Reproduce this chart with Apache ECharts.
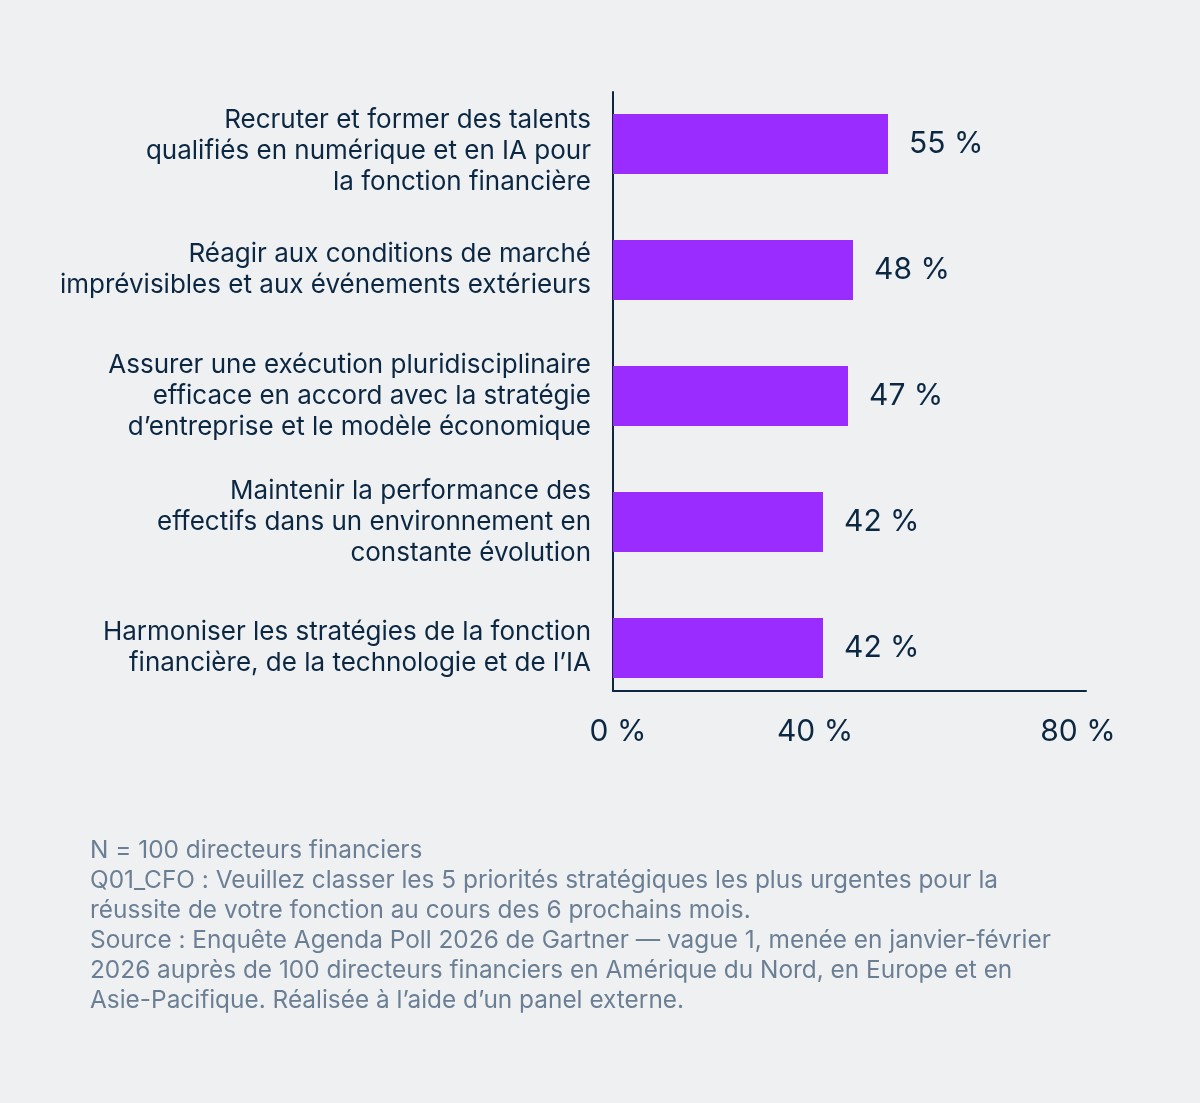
<!DOCTYPE html>
<html>
<head>
<meta charset="utf-8">
<script src="https://cdn.jsdelivr.net/npm/echarts@6/dist/echarts.min.js"></script>
<style>
  html, body { margin: 0; padding: 0; background: #eff0f2; }
  #main { width: 1200px; height: 1103px; }
</style>
</head>
<body>
<div id="main"></div>
<script>
// data
const categories = [
  'Recruter et former des talents\nqualifiés en numérique et en IA pour\nla fonction financière',
  'Réagir aux conditions de marché\nimprévisibles et aux événements extérieurs',
  'Assurer une exécution pluridisciplinaire\nefficace en accord avec la stratégie\nd\u2019entreprise et le modèle économique',
  'Maintenir la performance des\neffectifs dans un environnement en\nconstante évolution',
  'Harmoniser les stratégies de la fonction\nfinancière, de la technologie et de l\u2019IA'
];
const values = [55, 48, 47, 42, 42];
const tickLabels = ['0 %', '40 %', '80 %'];
const tickAt = [1, 40.4, 93]; // where the source puts its tick labels
const notes = [
  'N = 100 directeurs financiers',
  'Q01_CFO : Veuillez classer les 5 priorités stratégiques les plus urgentes pour la',
  'réussite de votre fonction au cours des 6 prochains mois.',
  'Source : Enquête Agenda Poll 2026 de Gartner \u2014 vague 1, menée en janvier-février',
  '2026 auprès de 100 directeurs financiers en Amérique du Nord, en Europe et en',
  'Asie-Pacifique. Réalisée à l\u2019aide d\u2019un panel externe.'
];

const navy = '#0b2742';
const font = 'Inter, "Noto Sans", sans-serif';
const axisMax = 94.6;

const myChart = echarts.init(document.getElementById('main'), null, { renderer: 'canvas' });

const catLabelStyle = { color: navy, fontSize: 26, lineHeight: 31, fontFamily: font, align: 'right' };

const option = {
  backgroundColor: '#eff0f2',
  animation: false,
  textStyle: { fontFamily: font },
  title: {
    text: notes.join('\n'),
    left: 90,
    top: 836,
    padding: 0,
    textStyle: { fontFamily: font, fontSize: 24.4, fontWeight: 'normal', color: '#6b7f94', lineHeight: 30 }
  },
  grid: [
    // bars
    { left: 613, top: 81, width: 473, height: 630 },
    // axis frame
    { left: 613, top: 92, width: 473, height: 599 }
  ],
  xAxis: [
    { gridIndex: 0, type: 'value', min: 0, max: axisMax, show: false },
    {
      gridIndex: 1, type: 'value', min: 0, max: axisMax,
      axisLine: { show: true, lineStyle: { color: navy, width: 2 } },
      axisTick: { show: false, customValues: tickAt },
      splitLine: { show: false },
      axisLabel: {
        show: true,
        customValues: tickAt,
        formatter: (v) => {
          const i = tickAt.findIndex(t => Math.abs(t - v) < 0.01);
          return i >= 0 ? tickLabels[i] : '';
        },
        color: navy, fontSize: 30, fontFamily: font, margin: 26
      }
    }
  ],
  yAxis: [
    {
      gridIndex: 0, type: 'category', inverse: true, data: categories,
      axisLine: { show: false },
      axisTick: { show: false },
      axisLabel: {
        ...catLabelStyle,
        margin: 22,
        // the first label sits a bit lower in the source: add a small empty line on top
        formatter: (v, i) => i === 0
          ? '{pad|}\n' + v.split('\n').map(s => '{t|' + s + '}').join('\n')
          : v,
        rich: {
          pad: { lineHeight: 14, fontSize: 1 },
          t: { ...catLabelStyle }
        }
      }
    },
    {
      gridIndex: 1, type: 'value', min: 0, max: 1,
      axisLine: { show: true, lineStyle: { color: navy, width: 2 } },
      axisTick: { show: false },
      axisLabel: { show: false },
      splitLine: { show: false }
    }
  ],
  series: [
    {
      type: 'bar',
      xAxisIndex: 0, yAxisIndex: 0,
      data: values,
      barWidth: 60,
      itemStyle: { color: '#9b2cff' },
      label: {
        show: true, position: 'right', distance: 21,
        formatter: '{c} %', color: navy, fontSize: 30, fontFamily: font
      }
    }
  ]
};

option && myChart.setOption(option);
</script>
</body>
</html>
